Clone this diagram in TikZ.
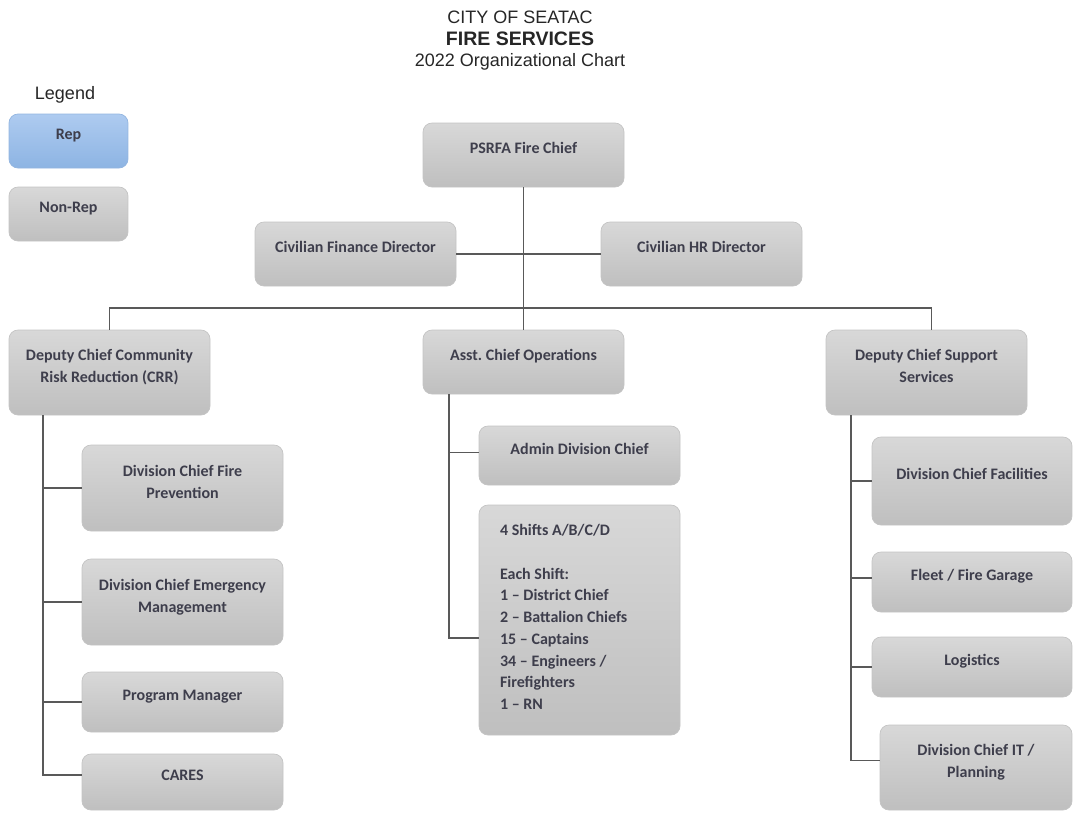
\documentclass[tikz,border=0pt]{standalone}
\usepackage{fontspec}
\setmainfont{Carlito}
\newfontfamily\headfont{Liberation Sans}
\usetikzlibrary{positioning}
\frenchspacing

\definecolor{boxtop}{HTML}{D8D8D8}
\definecolor{boxbot}{HTML}{BFBFBF}
\definecolor{boxedge}{HTML}{C4C4C4}
\definecolor{reptop}{HTML}{AECBF0}
\definecolor{repbot}{HTML}{8DB4E3}
\definecolor{repedge}{HTML}{93B5E0}
\definecolor{ink}{HTML}{3E3E4C}
\definecolor{headink}{HTML}{262626}
\definecolor{linkgray}{HTML}{595959}

\tikzset{post/.style={rectangle, rounded corners=9pt, draw=boxedge, line width=0.7pt,
                      top color=boxtop, bottom color=boxbot, text=ink,
                      font=\bfseries\fontsize{16}{22}\selectfont, align=center,
                      inner sep=0pt, minimum width=201pt, text height=0pt, text depth=3pt},
         tall/.style={text width=185pt, text depth=24pt,
                      execute at begin node={\spaceskip=0.23em\relax}},
         rep/.style={post, top color=reptop, bottom color=repbot, draw=repedge},
         link/.style={draw=linkgray, line width=1.5pt},
         head/.style={anchor=base, text=headink, font=\headfont\fontsize{18}{20}\selectfont},
         }

\begin{document}
\begin{tikzpicture}[x=1pt, y=-1pt]
\useasboundingbox (0,0) rectangle (1073,812);

% heading
\node[head] (city) at (520,23.5) {CITY OF SEATAC};
\node[head, font=\headfont\bfseries\fontsize{19.5}{22}\selectfont] (dept) at (520,45) {FIRE SERVICES};
\node[head] (year) at (520,66.5) {2022 Organizational Chart};

% legend
\node[head] (legend) at (65,99.5) {Legend};
\node[rep, minimum width=119pt, minimum height=54pt] (repkey) at (68.5,141) {Rep};
\node[post, minimum width=119pt, minimum height=54pt] (nonrepkey) at (68.5,214) {Non-Rep};

% top of the chart
\node[post, minimum height=64pt] (chief) at (523.5,155) {PSRFA Fire Chief};
\node[post, minimum height=64pt] (finance) at (355.5,254) {Civilian Finance Director};
\node[post, minimum height=64pt] (hr) at (701.5,254) {Civilian HR Director};

% three branches
\node[post, tall, minimum height=85pt] (crr) at (109.5,372.5) {Deputy Chief Community\\Risk Reduction (CRR)};
\node[post, minimum height=64pt] (ops) at (523.5,362) {Asst. Chief Operations};
\node[post, tall, minimum height=85pt] (support) at (926.5,372.5) {Deputy Chief Support\\Services};

% under CRR
\node[post, tall, minimum height=86pt] (prevention) at (182.5,488) {Division Chief Fire\\Prevention};
\node[post, tall, minimum height=86pt] (emergency) at (182.5,602) {Division Chief Emergency\\Management};
\node[post, minimum height=60pt] (program) at (182.5,702) {Program Manager};
\node[post, minimum height=56pt] (cares) at (182.5,782) {CARES};

% under operations
\node[post, minimum height=59pt] (admin) at (579.5,455.5) {Admin Division Chief};
\node[post, tall, text width=159pt, align=left, text depth=169pt,
      font=\bfseries\fontsize{16}{21.75}\selectfont, minimum height=230pt] (shifts) at (579.5,620)
     {4 Shifts A/B/C/D\\[21.75pt]Each Shift:\\1 – District Chief\\2 – Battalion Chiefs\\15 – Captains\\34 – Engineers /\\Firefighters\\1 – RN};

% under support services
\node[post, minimum width=200pt, minimum height=88pt] (facilities) at (972,481) {Division Chief Facilities};
\node[post, minimum width=200pt, minimum height=60pt] (fleet) at (972,582) {Fleet / Fire Garage};
\node[post, minimum width=200pt, minimum height=60pt] (logistics) at (972,667) {Logistics};
\node[post, tall, minimum width=192pt, minimum height=85pt] (it) at (976,767.5) {Division Chief IT /\\Planning};

% connectors
\coordinate (bar) at (523.5,308);
\coordinate (crrspine) at (43,415);
\coordinate (opsspine) at (449,394);
\coordinate (supspine) at (851,415);

\draw[link] (chief) -- (ops);
\draw[link] (finance) -- (hr);
\draw[link] (crr.north) |- (bar) -| ([xshift=5pt]support.north);

\draw[link] (crrspine) |- (prevention.west);
\draw[link] (crrspine) |- (emergency.west);
\draw[link] (crrspine) |- (program.west);
\draw[link] (crrspine) |- ([yshift=7pt]cares.west);

\draw[link] (opsspine) |- ([yshift=3pt]admin.west);
\draw[link] (opsspine) |- ([yshift=-18pt]shifts.west);

\draw[link] (supspine) |- (facilities.west);
\draw[link] (supspine) |- ([yshift=4pt]fleet.west);
\draw[link] (supspine) |- (logistics.west);
\draw[link] (supspine) |- ([yshift=7pt]it.west);
\end{tikzpicture}
\end{document}
